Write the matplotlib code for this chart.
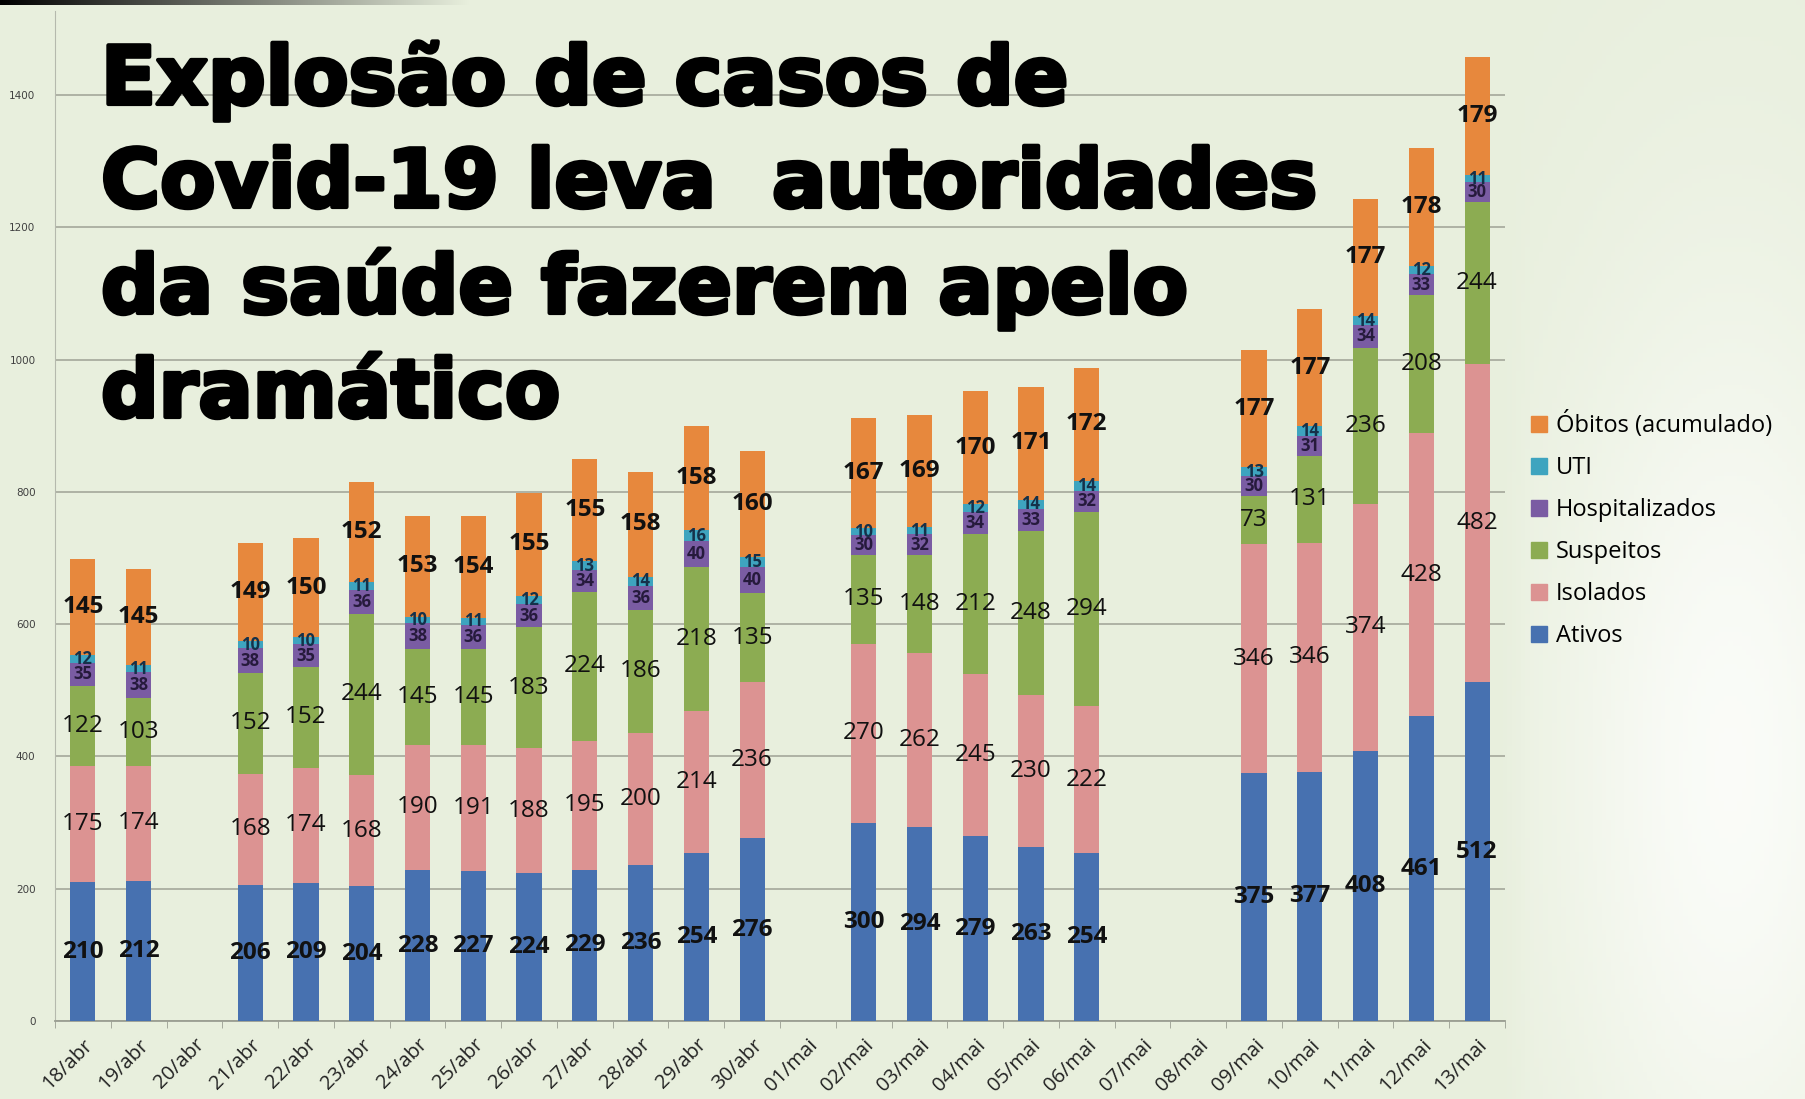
import numpy as np
import matplotlib.pyplot as plt
from matplotlib.patches import Patch
import matplotlib.patheffects as pe

nan = np.nan

# dias (sem dados em 20/abr, 01/mai, 07/mai e 08/mai)
datas = ['18/abr', '19/abr', '20/abr', '21/abr', '22/abr', '23/abr', '24/abr',
         '25/abr', '26/abr', '27/abr', '28/abr', '29/abr', '30/abr', '01/mai',
         '02/mai', '03/mai', '04/mai', '05/mai', '06/mai', '07/mai', '08/mai',
         '09/mai', '10/mai', '11/mai', '12/mai', '13/mai']

ativos = [210, 212, nan, 206, 209, 204, 228, 227, 224, 229, 236, 254, 276, nan,
          300, 294, 279, 263, 254, nan, nan, 375, 377, 408, 461, 512]
isolados = [175, 174, nan, 168, 174, 168, 190, 191, 188, 195, 200, 214, 236, nan,
            270, 262, 245, 230, 222, nan, nan, 346, 346, 374, 428, 482]
suspeitos = [122, 103, nan, 152, 152, 244, 145, 145, 183, 224, 186, 218, 135, nan,
             135, 148, 212, 248, 294, nan, nan, 73, 131, 236, 208, 244]
hospitalizados = [35, 38, nan, 38, 35, 36, 38, 36, 36, 34, 36, 40, 40, nan,
                  30, 32, 34, 33, 32, nan, nan, 30, 31, 34, 33, 30]
uti = [12, 11, nan, 10, 10, 11, 10, 11, 12, 13, 14, 16, 15, nan,
       10, 11, 12, 14, 14, nan, nan, 13, 14, 14, 12, 11]
obitos = [145, 145, nan, 149, 150, 152, 153, 154, 155, 155, 158, 158, 160, nan,
          167, 169, 170, 171, 172, nan, nan, 177, 177, 177, 178, 179]

nomes = ['Ativos', 'Isolados', 'Suspeitos', 'Hospitalizados', 'UTI', 'Óbitos (acumulado)']
valores = [ativos, isolados, suspeitos, hospitalizados, uti, obitos]
cores = ['#4771b0', '#dc9392', '#8cac52', '#7a5ca3', '#3ea4bf', '#e7883d']
# estilo dos rótulos: (tamanho, peso, cor)
rotulos = [(17.5, 'bold', '#111111'), (17.5, 'normal', '#111111'), (17.5, 'normal', '#111111'),
           (12, 'bold', '#261a3c'), (12, 'bold', '#15314a'), (17.5, 'bold', '#111111')]

titulo = ['Explosão de casos de', 'Covid-19 leva  autoridades',
          'da saúde fazerem apelo', 'dramático']

W, H = 1805, 1099
fundo = np.array([232, 239, 221]) / 255.0

fig = plt.figure(figsize=(W / 100, H / 100), dpi=100)
fig.patch.set_facecolor(fundo)

# fundo com clarão à direita
bg = fig.add_axes([0, 0, 1, 1], zorder=-10)
xx, yy = np.meshgrid(np.linspace(0, 1, 400), np.linspace(0, 1, 240))
glow = np.exp(-(((xx - 0.96) / 0.10) ** 2 + ((yy - 0.7) / 0.45) ** 2))
glow = glow * np.clip((xx - 0.83) / 0.02, 0, 1)
img = fundo[None, None, :] * (1 - 0.8 * glow[..., None]) + 0.8 * glow[..., None]
bg.imshow(img, extent=[0, 1, 0, 1], aspect='auto', origin='upper')
bg.axis('off')

# barra escura no topo
barra = fig.add_axes([0, 1 - 5 / H, 470 / W, 5 / H], zorder=-5)
g = np.linspace(0, 1, 256)[None, :, None]
barra.imshow(fundo[None, None, :] * g, extent=[0, 1, 0, 1], aspect='auto')
barra.axis('off')

ax = fig.add_axes([55 / W, (H - 1021) / H, 1450 / W, (1021 - 11) / H])
ax.set_facecolor('none')

x = np.arange(len(datas))
base = np.zeros(len(datas))
for nome, vals, cor, (fs, fw, fc) in zip(nomes, valores, cores, rotulos):
    v = np.array(vals, dtype=float)
    ax.bar(x, v, 0.45, bottom=base, color=cor, label=nome, zorder=3)
    for i in range(len(x)):
        if not np.isnan(v[i]):
            ax.text(x[i], base[i] + v[i] / 2, f'{int(v[i])}', ha='center', va='center',
                    fontsize=fs, fontweight=fw, color=fc, family='Open Sans', zorder=5)
    base = base + np.nan_to_num(v)

ax.set_xlim(-0.5, len(datas) - 0.5)
ax.set_ylim(0, 1527)
ax.set_yticks(range(0, 1401, 200))
ax.yaxis.grid(True, color='#a9ad9f', linewidth=1.3, zorder=0)
ax.tick_params(axis='y', length=0, labelsize=7.5, labelcolor='#404040', pad=14)
ax.set_xticks(x)
ax.set_xticklabels(datas, rotation=45, ha='right', rotation_mode='anchor',
                   fontsize=14.5, family='Open Sans', color='#222222')
ax.set_xticks(np.arange(-0.5, len(datas)), minor=True)
ax.tick_params(axis='x', which='major', length=0, pad=10)
ax.tick_params(axis='x', which='minor', length=5, color='#9a9e92')
for s in ['top', 'right']:
    ax.spines[s].set_visible(False)
ax.spines['left'].set_color('#b5b9ad')
ax.spines['bottom'].set_color('#9a9e92')
ax.spines['bottom'].set_linewidth(1.3)

handles = [Patch(color=c, label=n) for n, c in zip(nomes, cores)][::-1]
fig.legend(handles=handles, loc='upper left', bbox_to_anchor=(1510 / W, 1 - 390 / H),
           frameon=False, prop={'family': 'Open Sans', 'size': 17},
           handlelength=0.65, handleheight=0.65, handletextpad=0.4, labelspacing=0.76)

bases_titulo = [104, 207, 313, 417]
for linha, yb in zip(titulo, bases_titulo):
    fig.text(101 / W, 1 - yb / H, linha, ha='left', va='baseline', fontsize=58,
             fontweight='bold', family='DejaVu Sans', color='black',
             path_effects=[pe.withStroke(linewidth=3, foreground='black')])

fig.savefig('out.png', dpi=100, facecolor=fig.get_facecolor())
